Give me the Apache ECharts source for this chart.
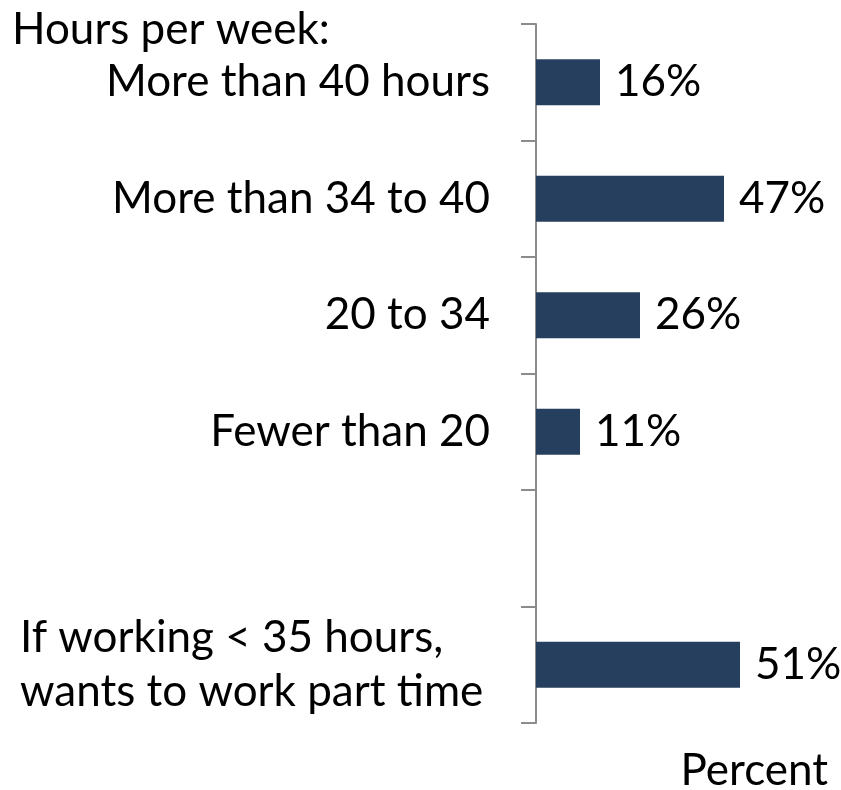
<!DOCTYPE html>
<html>
<head>
<meta charset="utf-8">
<script src="https://cdn.jsdelivr.net/npm/echarts@6/dist/echarts.min.js"></script>
<style>
  html, body { margin: 0; padding: 0; background: #fff; }
  #chart { width: 841px; height: 790px; }
</style>
</head>
<body>
<div id="chart"></div>
<script>
var categories = ['More than 40 hours', 'More than 34 to 40', '20 to 34', 'Fewer than 20', '', 'If working < 35 hours,\nwants to work part time'];
var values = [16, 47, 26, 11, null, 51];
var headerText = 'Hours per week:';
var axisTitle = 'Percent';

(function () {
  var fontStack = 'Lato, "Open Sans", sans-serif';
  var ink = '#000000';
  var barColor = '#263F5F';
  var axisGray = '#8C8C8C';
  var fs = 44;

  var chart = echarts.init(document.getElementById('chart'), null, { renderer: 'canvas' });
  chart.setOption({
    animation: false,
    grid: { left: 536, right: 25, top: 24, bottom: 67 },
    xAxis: {
      type: 'value',
      min: 0,
      max: 70,
      show: false
    },
    yAxis: {
      type: 'category',
      inverse: true,
      data: categories,
      axisLine: { show: true, lineStyle: { color: axisGray, width: 2 } },
      axisTick: { show: true, inside: false, length: 15, alignWithLabel: false, lineStyle: { color: axisGray, width: 2 } },
      axisLabel: {
        margin: 46,
        color: ink,
        fontFamily: fontStack,
        fontSize: fs,
        lineHeight: 54,
        formatter: function (v) {
          if (v.indexOf('\n') >= 0) {
            return v.split('\n').map(function (s) { return '{l|' + s + '}'; }).join('\n');
          }
          return v;
        },
        rich: {
          l: { width: 470, align: 'left', fontFamily: fontStack, fontSize: fs, color: ink, lineHeight: 54 }
        }
      }
    },
    series: [{
      type: 'bar',
      data: values,
      barWidth: 46,
      itemStyle: { color: barColor },
      label: {
        show: true,
        position: 'right',
        distance: 15,
        color: ink,
        fontFamily: fontStack,
        fontSize: fs,
        formatter: function (p) { return p.value + '%'; }
      }
    }],
    graphic: [
      {
        type: 'text',
        left: 12,
        top: 8,
        style: { text: headerText, fill: ink, fontFamily: fontStack, fontSize: fs }
      },
      {
        type: 'text',
        right: 13,
        top: 749,
        style: { text: axisTitle, fill: ink, fontFamily: fontStack, fontSize: fs }
      }
    ]
  });
  window.addEventListener('resize', function () { chart.resize(); });
})();
</script>
</body>
</html>
